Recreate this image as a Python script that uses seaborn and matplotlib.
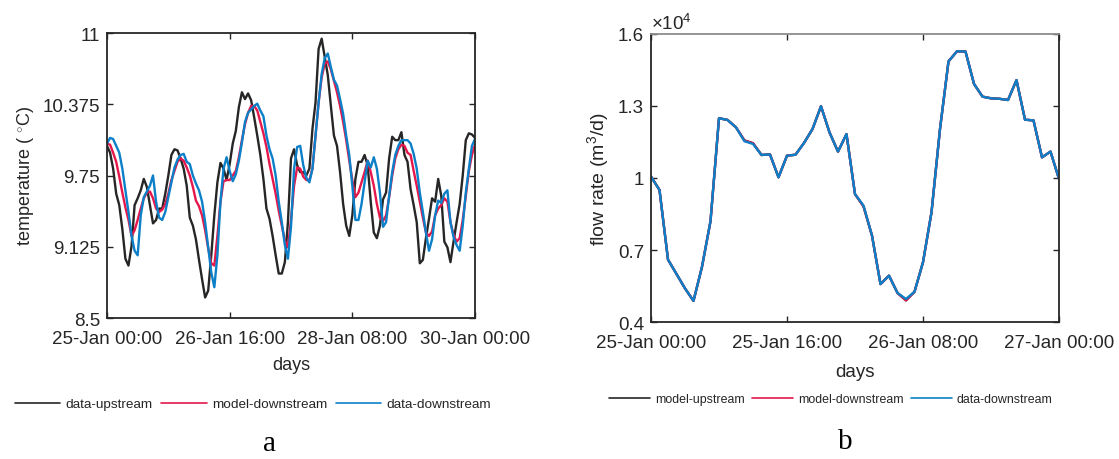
import numpy as np
import pandas as pd
import matplotlib
matplotlib.use("Agg")
import matplotlib.pyplot as plt
import matplotlib.dates as mdates
from matplotlib.lines import Line2D
from matplotlib.ticker import FixedLocator, FuncFormatter
import seaborn as sns

# ---- data -----------------------------------------------------------------
# (a) hourly water temperature, 25-Jan 00:00 .. 30-Jan 00:00
temp_data_upstream = [
    10.01, 9.95, 9.81, 9.59, 9.49, 9.28, 9.02, 8.96, 9.13, 9.49,
    9.55, 9.62, 9.72, 9.65, 9.49, 9.33, 9.36, 9.46, 9.46, 9.59,
    9.75, 9.93, 9.98, 9.97, 9.90, 9.81, 9.66, 9.38, 9.31, 9.19,
    9.01, 8.84, 8.68, 8.74, 9.05, 9.40, 9.69, 9.86, 9.81, 9.71,
    9.85, 10.03, 10.14, 10.35, 10.48, 10.42, 10.47, 10.41, 10.26, 10.10,
    9.93, 9.72, 9.46, 9.37, 9.22, 9.05, 8.89, 8.89, 8.99, 9.34,
    9.90, 9.98, 9.84, 9.78, 9.78, 9.75, 9.81, 10.16, 10.39, 10.86,
    10.95, 10.79, 10.63, 10.36, 10.10, 10.01, 9.78, 9.50, 9.31, 9.22,
    9.40, 9.72, 9.87, 9.87, 9.93, 9.84, 9.52, 9.25, 9.20, 9.31,
    9.54, 9.60, 9.90, 10.09, 10.06, 10.06, 10.13, 9.93, 9.87, 9.63,
    9.49, 9.34, 8.98, 9.01, 9.20, 9.37, 9.55, 9.52, 9.72, 9.57,
    9.17, 9.12, 8.99, 9.17, 9.34, 9.50, 9.75, 10.06, 10.12, 10.11,
    10.08,
]
temp_model_downstream = [
    10.03, 10.02, 9.95, 9.87, 9.74, 9.60, 9.47, 9.36, 9.22, 9.27,
    9.36, 9.46, 9.55, 9.60, 9.61, 9.55, 9.46, 9.43, 9.45, 9.50,
    9.59, 9.71, 9.79, 9.87, 9.90, 9.88, 9.82, 9.75, 9.65, 9.53,
    9.48, 9.40, 9.27, 9.11, 8.98, 8.96, 9.22, 9.52, 9.70, 9.71,
    9.71, 9.75, 9.79, 9.91, 10.06, 10.20, 10.30, 10.36, 10.36, 10.32,
    10.22, 10.12, 10.00, 9.85, 9.72, 9.59, 9.44, 9.31, 9.18, 9.12,
    9.36, 9.66, 9.82, 9.81, 9.74, 9.71, 9.71, 9.81, 10.10, 10.39,
    10.61, 10.73, 10.75, 10.68, 10.58, 10.48, 10.36, 10.22, 10.06, 9.88,
    9.71, 9.56, 9.60, 9.69, 9.78, 9.88, 9.78, 9.66, 9.50, 9.38,
    9.35, 9.40, 9.56, 9.75, 9.90, 9.98, 10.02, 10.01, 9.95, 9.93,
    9.79, 9.66, 9.52, 9.38, 9.25, 9.22, 9.26, 9.40, 9.46, 9.49,
    9.55, 9.52, 9.34, 9.23, 9.17, 9.20, 9.36, 9.57, 9.79, 9.93,
    10.02,
]
temp_data_downstream = [
    10.03, 10.08, 10.07, 10.01, 9.95, 9.81, 9.62, 9.43, 9.22, 9.09,
    9.05, 9.40, 9.56, 9.61, 9.66, 9.75, 9.52, 9.38, 9.36, 9.43,
    9.56, 9.69, 9.82, 9.89, 9.93, 9.94, 9.87, 9.85, 9.75, 9.68,
    9.62, 9.52, 9.34, 9.12, 8.90, 8.77, 9.05, 9.52, 9.81, 9.91,
    9.79, 9.70, 9.76, 9.88, 10.04, 10.22, 10.30, 10.33, 10.36, 10.38,
    10.32, 10.27, 10.10, 9.98, 9.90, 9.75, 9.52, 9.34, 9.14, 9.02,
    9.30, 9.81, 10.00, 10.01, 9.84, 9.73, 9.69, 9.81, 10.10, 10.39,
    10.64, 10.78, 10.82, 10.70, 10.59, 10.54, 10.42, 10.29, 10.10, 9.93,
    9.66, 9.36, 9.36, 9.50, 9.69, 9.88, 9.82, 9.91, 9.81, 9.60,
    9.30, 9.34, 9.57, 9.78, 9.93, 10.01, 10.06, 10.06, 10.06, 10.03,
    9.94, 9.81, 9.60, 9.43, 9.25, 9.09, 9.19, 9.40, 9.53, 9.51,
    9.59, 9.62, 9.34, 9.21, 9.14, 9.09, 9.31, 9.60, 9.81, 10.01,
    10.07,
]

# (b) hourly flow rate in m3/d, 25-Jan 00:00 .. 27-Jan 00:00
flow_model_upstream = [
    10060, 9500, 6600, 6000, 5400, 4880, 6300, 8200, 12490, 12420,
    12110, 11560, 11450, 10960, 10980, 10030, 10930, 10970, 11460, 12040,
    12990, 11900, 11100, 11830, 9330, 8820, 7600, 5580, 5930, 5210,
    4900, 5260, 6490, 8570, 12040, 14860, 15280, 15270, 13920, 13390,
    13320, 13300, 13250, 14080, 12430, 12400, 10860, 11100, 9960,
]
flow_model_downstream = [
    10060, 9500, 6600, 6000, 5400, 4880, 6300, 8200, 12490, 12420,
    12110, 11560, 11450, 10960, 10980, 10030, 10930, 10970, 11460, 12040,
    12990, 11900, 11100, 11830, 9330, 8820, 7600, 5580, 5930, 5210,
    4900, 5260, 6490, 8570, 12040, 14860, 15280, 15270, 13920, 13390,
    13320, 13300, 13250, 14080, 12430, 12400, 10860, 11100, 9960,
]
flow_data_downstream = [
    10060, 9500, 6600, 6000, 5400, 4880, 6300, 8200, 12490, 12420,
    12110, 11530, 11420, 10960, 10980, 10030, 10930, 10970, 11460, 12040,
    12990, 11900, 11100, 11830, 9330, 8850, 7600, 5580, 5930, 5210,
    4960, 5260, 6490, 8570, 12040, 14860, 15280, 15270, 13920, 13390,
    13320, 13300, 13250, 14080, 12430, 12400, 10860, 11100, 9960,
]

temp_labels = ["data-upstream", "model-downstream", "data-downstream"]
flow_labels = ["model-upstream", "model-downstream", "data-downstream"]
temp_ticks = ["2017-01-25 00:00", "2017-01-26 16:00", "2017-01-28 08:00", "2017-01-30 00:00"]
flow_ticks = ["2017-01-25 00:00", "2017-01-25 16:00", "2017-01-26 08:00", "2017-01-27 00:00"]
temp_yticks = [8.5, 9.125, 9.75, 10.375, 11]
flow_yticks = [4000, 7000, 10000, 13000, 16000]

# ---- style ----------------------------------------------------------------
sns.set_theme(style="white")
plt.rcParams["font.family"] = ["Liberation Sans", "DejaVu Sans"]
plt.rcParams["mathtext.fontset"] = "custom"
plt.rcParams["mathtext.rm"] = "Liberation Sans"
plt.rcParams["mathtext.it"] = "Liberation Sans"
plt.rcParams["mathtext.bf"] = "Liberation Sans"

c_black = "#262626"
c_red = "#E5174B"
c_blue = "#0B80C8"
colors = [c_black, c_red, c_blue]
ink = "#262626"


def long_frame(times, series, labels):
    parts = []
    for vals, lab in zip(series, labels):
        parts.append(pd.DataFrame({"time": times, "value": vals, "series": lab}))
    return pd.concat(parts, ignore_index=True)


t_temp = pd.date_range("2017-01-25 00:00", periods=len(temp_data_upstream), freq="h")
t_flow = pd.date_range("2017-01-25 00:00", periods=len(flow_data_downstream), freq="h")

df_temp = long_frame(t_temp, [temp_data_upstream, temp_model_downstream, temp_data_downstream], temp_labels)
df_flow = long_frame(t_flow, [flow_model_upstream, flow_model_downstream, flow_data_downstream], flow_labels)

fig = plt.figure(figsize=(11.19, 4.60), dpi=100)
ax1 = fig.add_axes([107 / 1119, 1 - 319 / 460, 368 / 1119, 285 / 460])
ax2 = fig.add_axes([651 / 1119, 1 - 323 / 460, 408 / 1119, 288 / 460])

lw = 1.7
sns.lineplot(data=df_temp, x="time", y="value", hue="series", hue_order=temp_labels,
             palette=colors, estimator=None, sort=False, lw=lw, legend=False, ax=ax1)
sns.lineplot(data=df_flow, x="time", y="value", hue="series", hue_order=flow_labels,
             palette=colors, estimator=None, sort=False, lw=lw, legend=False, ax=ax2)

tick_fs = 13.5


def style_axes(ax, xticks, yticks, ylim):
    xt = pd.to_datetime(xticks)
    ax.set_xlim(xt[0], xt[-1])
    ax.set_ylim(*ylim)
    ax.xaxis.set_major_locator(FixedLocator(mdates.date2num(xt)))
    ax.xaxis.set_major_formatter(mdates.DateFormatter("%d-%b %H:%M"))
    ax.yaxis.set_major_locator(FixedLocator(yticks))
    ax.tick_params(axis="both", which="major", direction="in", length=4, width=1.0,
                   color=ink, labelcolor=ink, labelsize=tick_fs,
                   top=True, right=True, bottom=True, left=True)
    ax.tick_params(axis="x", pad=9)
    ax.tick_params(axis="y", pad=5)
    for s in ax.spines.values():
        s.set_color(ink)
        s.set_linewidth(1.3)
    ax.grid(False)
    ax.set_facecolor("white")


style_axes(ax1, temp_ticks, temp_yticks, (8.5, 11))
ax1.yaxis.set_major_formatter(FuncFormatter(lambda v, p: f"{v:g}"))
ax1.set_xlabel("days", fontsize=13, color=ink, labelpad=6)
ax1.set_ylabel(r"temperature ( $^{\circ}$C)", fontsize=13, color=ink, labelpad=5)

style_axes(ax2, flow_ticks, flow_yticks, (4000, 16000))
ax2.yaxis.set_major_formatter(FuncFormatter(lambda v, p: f"{v / 1e4:g}"))
ax2.spines["top"].set_color("#8c8c8c")
ax2.set_xlabel("days", fontsize=13.5, color=ink, labelpad=8)
ax2.set_ylabel(r"flow rate (m$^3$/d)", fontsize=14, color=ink, labelpad=5)
ax2.text(0.0, 1.005, r"$\times10^4$", transform=ax2.transAxes, ha="left", va="bottom",
         fontsize=13.5, color=ink)


def legend_below(labels, cx, cy, fs, hl):
    handles = [Line2D([0], [0], color=c, lw=1.2) for c in colors]
    fig.legend(handles, labels, loc="center", bbox_to_anchor=(cx, cy),
               bbox_transform=fig.transFigure, ncol=3, frameon=False,
               fontsize=fs, handlelength=hl, handletextpad=0.4,
               columnspacing=0.6, labelcolor=ink)


legend_below(temp_labels, 253 / 1119, 1 - 405 / 460, 9.7, 3.4)
legend_below(flow_labels, 831 / 1119, 1 - 400 / 460, 8.9, 3.3)

fig.text(270 / 1119, 1 - 444 / 460, "a", ha="center", va="center",
         fontsize=21, family="Liberation Serif", color="black")
fig.text(845 / 1119, 1 - 442 / 460, "b", ha="center", va="center",
         fontsize=21, family="Liberation Serif", color="black")

fig.savefig("out.png", dpi=100, facecolor="white")
